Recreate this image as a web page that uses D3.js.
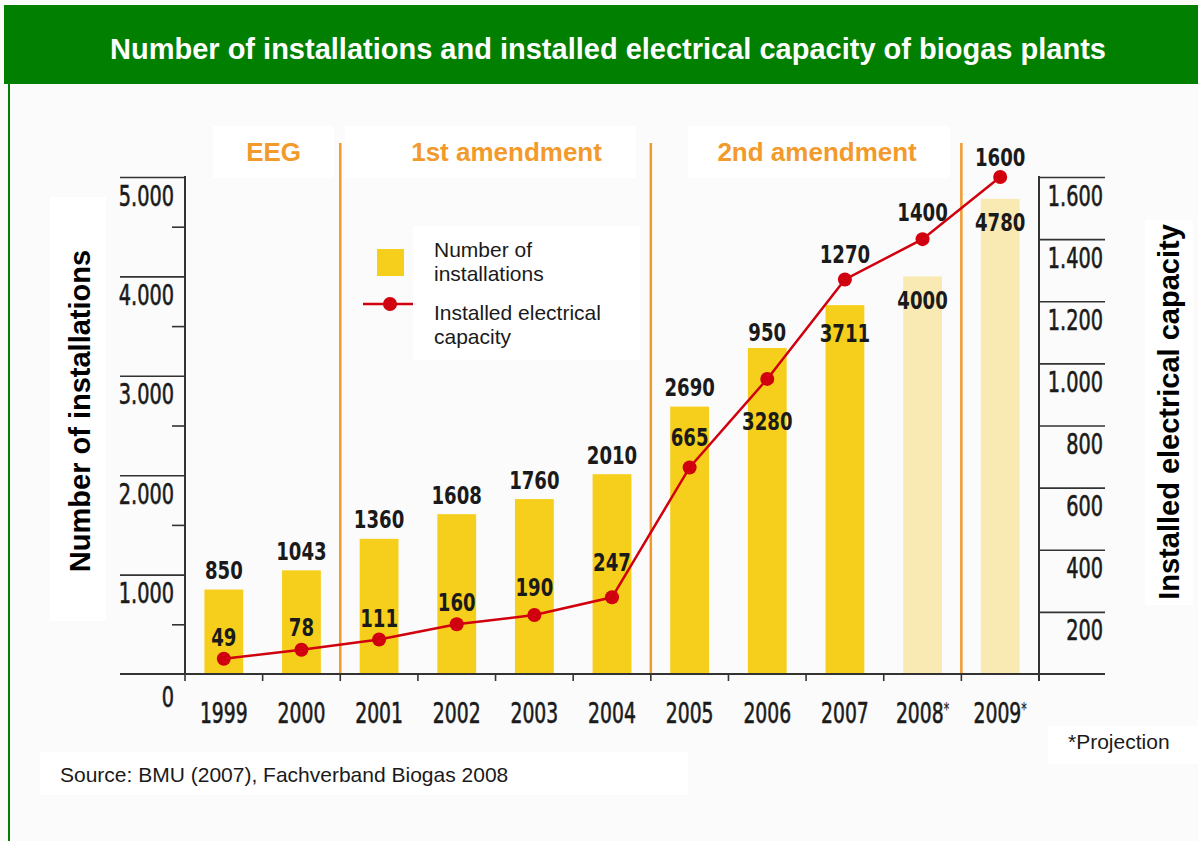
<!DOCTYPE html>
<html>
<head>
<meta charset="utf-8">
<script src="https://cdn.jsdelivr.net/npm/d3@7"></script>
<style>
  body { margin: 0; background: #fbfbfb; }
  svg { display: block; }
</style>
</head>
<body>
<script>
// chart data
const years = ["1999", "2000", "2001", "2002", "2003", "2004", "2005", "2006", "2007", "2008", "2009"];
const installations = [850, 1043, 1360, 1608, 1760, 2010, 2690, 3280, 3711, 4000, 4780];
const capacity = [49, 78, 111, 160, 190, 247, 665, 950, 1270, 1400, 1600];
const projected = ["2008", "2009"];
const leftTicks = [1000, 2000, 3000, 4000, 5000];
const leftMinorTicks = [500, 1500, 2500, 3500, 4500];
const rightTicks = [200, 400, 600, 800, 1000, 1200, 1400, 1600];
const phases = [
  { name: "EEG", from: "1999", to: "2000" },
  { name: "1st amendment", from: "2001", to: "2004" },
  { name: "2nd amendment", from: "2005", to: "2008" }
];

// label placement (offset of the label centre from the bar top / point)
const barLabelShift = { "2006": 73, "2007": 28, "2008": 24, "2009": 23 };
const capLabelShift = [-21, -22, -21, -22, -28, -35, -30, -47, -25, -27, -20];

const W = 1198, H = 841;
const green = "#007f00", yellow = "#f6cf1c", paleYellow = "#f9e9b3";
const red = "#d0000e", orange = "#f29a2b", ink = "#1a1a1a";
const narrow = "'DejaVu Sans Condensed', 'DejaVu Sans', sans-serif";
const sans = "'Liberation Sans', Arial, sans-serif";

// squeeze text horizontally, the original uses a very narrow face
function condense(sel, k) {
  sel.each(function() {
    const t = d3.select(this);
    const tx = +t.attr("x") || 0, ty = +t.attr("y") || 0;
    t.attr("x", 0).attr("y", 0)
      .attr("transform", `translate(${tx},${ty}) scale(${k},1)`);
  });
}

const svg = d3.select("body").append("svg")
    .attr("width", W)
    .attr("height", H);

svg.append("rect").attr("width", W).attr("height", H).attr("fill", "#fbfbfb");

// title bar + left border
svg.append("rect")
    .attr("x", 4).attr("y", 5)
    .attr("width", W - 4).attr("height", 79)
    .attr("fill", green);
svg.append("line")
    .attr("x1", 9).attr("x2", 9)
    .attr("y1", 84).attr("y2", H)
    .style("stroke", green)
    .style("stroke-width", 2);
svg.append("text")
    .text("Number of installations and installed electrical capacity of biogas plants")
    .attr("x", 608).attr("y", 59)
    .attr("text-anchor", "middle")
    .style("font-family", sans)
    .style("font-weight", "bold")
    .style("font-size", "29px")
    .style("fill", "#fff");

// white boxes behind the labels
const boxes = [
  [50, 197, 56, 424], [1145, 220, 48, 385],
  [213, 126, 121, 52], [345, 126, 291, 52], [688, 126, 262, 52],
  [413, 226, 227, 134], [1048, 726, 150, 38], [40, 752, 648, 43]
];
svg.selectAll("rect.box").data(boxes).join("rect")
    .attr("class", "box")
    .attr("x", d => d[0]).attr("y", d => d[1])
    .attr("width", d => d[2]).attr("height", d => d[3])
    .attr("fill", "#fff");

// scales
const x = d3.scaleBand().domain(years).range([185, 1039])
    .paddingInner(0.5).paddingOuter(0.25);
const yL = d3.scaleLinear().domain([0, 5000]).range([674, 177]);
const yR = d3.scaleLinear().domain([0, 1600]).range([674, 177]);
const gap = x.step() - x.bandwidth();
const cx = d => x(d) + x.bandwidth() / 2;
const fmt = d3.formatLocale({ decimal: ",", thousands: ".", grouping: [3], currency: ["", ""] }).format(",");

// phase separators
const sepYears = phases.slice(1).map(p => p.from).concat(["2009"]);
svg.selectAll("line.phase").data(sepYears).join("line")
    .attr("class", "phase")
    .attr("x1", d => x(d) - gap / 2).attr("x2", d => x(d) - gap / 2)
    .attr("y1", 143).attr("y2", 674)
    .style("stroke", orange)
    .style("stroke-width", 2.5);

svg.selectAll("text.phase").data(phases).join("text")
    .attr("class", "phase")
    .text(d => d.name)
    .attr("x", d => (cx(d.from) + cx(d.to)) / 2 + 11)
    .attr("y", 161)
    .attr("text-anchor", "middle")
    .style("font-family", sans)
    .style("font-weight", "bold")
    .style("font-size", "26px")
    .style("fill", orange);

// bars
svg.selectAll("rect.bar").data(years).join("rect")
    .attr("class", "bar")
    .attr("x", d => x(d))
    .attr("y", (d, i) => yL(installations[i]))
    .attr("width", x.bandwidth())
    .attr("height", (d, i) => yL(0) - yL(installations[i]))
    .attr("fill", d => projected.includes(d) ? paleYellow : yellow);

// left axis
const leftAxis = svg.append("g")
    .attr("transform", "translate(185,0)")
    .call(d3.axisLeft(yL).tickValues(leftTicks).tickSize(65).tickFormat(fmt));
const leftMinor = svg.append("g")
    .attr("transform", "translate(185,0)")
    .call(d3.axisLeft(yL).tickValues(leftMinorTicks).tickSize(13).tickFormat(""));

// right axis
const rightAxis = svg.append("g")
    .attr("transform", "translate(1039,0)")
    .call(d3.axisRight(yR).tickValues(rightTicks).tickSize(66).tickFormat(fmt));

[leftAxis, leftMinor, rightAxis].forEach(g => {
  g.select(".domain").remove();
  g.selectAll("line").style("stroke", "#333").style("stroke-width", 1.6);
});
leftAxis.selectAll("text")
    .attr("x", -11).attr("y", 28)
    .attr("dy", null)
    .attr("text-anchor", "end");
rightAxis.selectAll("text")
    .attr("x", 64).attr("y", 28)
    .attr("dy", null)
    .attr("text-anchor", "end");
[leftAxis, rightAxis].forEach(g => g.selectAll("text")
    .style("font-family", narrow)
    .style("font-size", "29px")
    .style("fill", ink)
    .style("stroke", ink)
    .style("stroke-width", 0.6)
    .call(condense, 0.74));

// axis spines and baseline
svg.append("line").attr("x1", 185).attr("x2", 185).attr("y1", 176).attr("y2", 674)
    .style("stroke", "#333").style("stroke-width", 2);
svg.append("line").attr("x1", 1039).attr("x2", 1039).attr("y1", 176).attr("y2", 681)
    .style("stroke", "#333").style("stroke-width", 2);
svg.append("line").attr("x1", 120).attr("x2", 1105).attr("y1", 674).attr("y2", 674)
    .style("stroke", "#333").style("stroke-width", 2);

// x ticks between the years
const boundaries = years.map(d => x(d) - gap / 2);
svg.selectAll("line.xtick").data(boundaries).join("line")
    .attr("class", "xtick")
    .attr("x1", d => d).attr("x2", d => d)
    .attr("y1", 674).attr("y2", 681)
    .style("stroke", "#333").style("stroke-width", 1.6);

svg.append("text").text("0")
    .attr("x", 174).attr("y", 707)
    .attr("text-anchor", "end")
    .style("font-family", narrow).style("font-size", "29px").style("fill", ink)
    .style("stroke", ink).style("stroke-width", 0.6)
    .call(condense, 0.74);

const yearLabels = svg.selectAll("text.year").data(years).join("text")
    .attr("class", "year")
    .attr("x", d => cx(d))
    .attr("y", 723)
    .attr("text-anchor", "middle")
    .style("font-family", narrow)
    .style("font-size", "29px")
    .style("fill", ink)
    .style("stroke", ink)
    .style("stroke-width", 0.6)
    .text(d => d);
yearLabels.filter(d => projected.includes(d))
    .append("tspan")
    .text("*")
    .attr("dy", -8)
    .style("font-size", "17px")
    .style("stroke-width", 0.2);
yearLabels.call(condense, 0.72);

// capacity line
const line = d3.line()
    .x((d, i) => cx(years[i]))
    .y(d => yR(d));
svg.append("path")
    .datum(capacity)
    .attr("d", line)
    .attr("fill", "none")
    .style("stroke", red)
    .style("stroke-width", 2.5);
svg.selectAll("circle.pt").data(capacity).join("circle")
    .attr("class", "pt")
    .attr("cx", (d, i) => cx(years[i]))
    .attr("cy", d => yR(d))
    .attr("r", 7)
    .attr("fill", red);

// value labels
const numStyle = sel => sel
    .attr("text-anchor", "middle")
    .attr("dy", "0.36em")
    .style("font-family", narrow)
    .style("font-weight", "bold")
    .style("font-size", "24px")
    .style("fill", ink);

svg.selectAll("text.barval").data(years).join("text")
    .attr("class", "barval")
    .text((d, i) => installations[i])
    .attr("x", d => cx(d))
    .attr("y", (d, i) => yL(installations[i]) + (barLabelShift[d] !== undefined ? barLabelShift[d] : -19))
    .call(numStyle)
    .call(condense, 0.84);

svg.selectAll("text.capval").data(years).join("text")
    .attr("class", "capval")
    .text((d, i) => capacity[i])
    .attr("x", d => cx(d))
    .attr("y", (d, i) => yR(capacity[i]) + capLabelShift[i])
    .call(numStyle)
    .call(condense, 0.84);

// legend
svg.append("rect")
    .attr("x", 377).attr("y", 249).attr("width", 27).attr("height", 27)
    .attr("fill", yellow);
svg.append("line")
    .attr("x1", 363).attr("x2", 413).attr("y1", 304).attr("y2", 304)
    .style("stroke", red).style("stroke-width", 2.5);
svg.append("circle").attr("cx", 390).attr("cy", 304).attr("r", 7).attr("fill", red);
const legendLines = [["Number of", 257], ["installations", 281], ["Installed electrical", 320], ["capacity", 344]];
svg.selectAll("text.leg").data(legendLines).join("text")
    .attr("class", "leg")
    .text(d => d[0])
    .attr("x", 434).attr("y", d => d[1])
    .style("font-family", sans)
    .style("font-size", "21px")
    .style("fill", ink);

// axis titles
svg.append("text")
    .text("Number of installations")
    .attr("transform", "translate(90,411) rotate(-90)")
    .attr("text-anchor", "middle")
    .style("font-family", sans).style("font-weight", "bold").style("font-size", "29px")
    .style("fill", "#000");
svg.append("text")
    .text("Installed electrical capacity")
    .attr("transform", "translate(1179,412) rotate(-90)")
    .attr("text-anchor", "middle")
    .style("font-family", sans).style("font-weight", "bold").style("font-size", "29px")
    .style("fill", "#000");

// notes
svg.append("text").text("*Projection")
    .attr("x", 1068).attr("y", 749)
    .style("font-family", sans).style("font-size", "21px").style("fill", ink);
svg.append("text").text("Source: BMU (2007), Fachverband Biogas 2008")
    .attr("x", 60).attr("y", 782)
    .style("font-family", sans).style("font-size", "21px").style("fill", ink);
</script>
</body>
</html>
